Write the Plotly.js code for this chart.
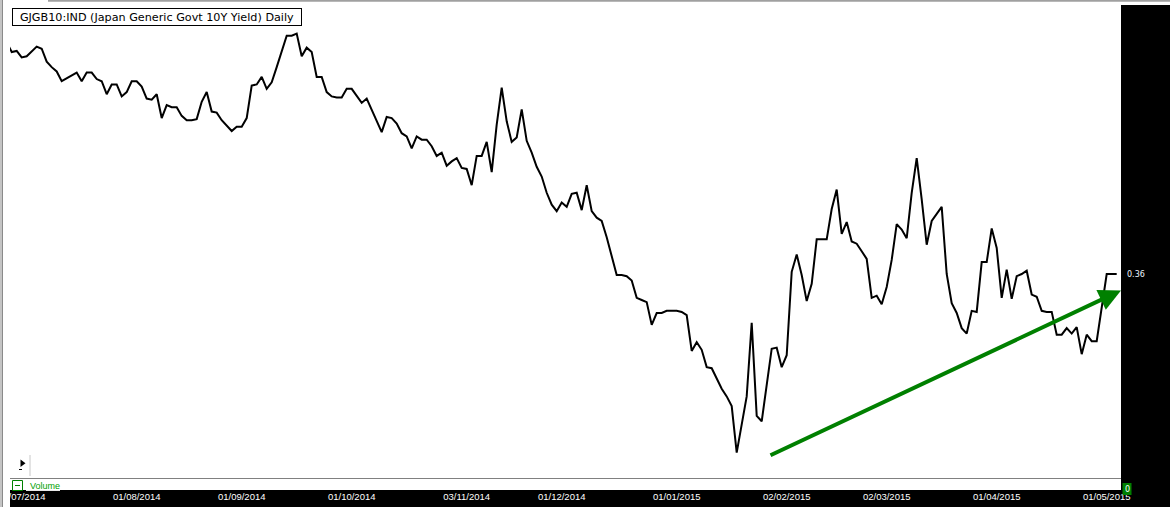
<!DOCTYPE html>
<html>
<head>
<meta charset="utf-8">
<script src="https://cdn.plot.ly/plotly-3.0.1.min.js"></script>
<style>
html,body{margin:0;padding:0;background:#fff;}
#chart{width:1170px;height:507px;}
</style>
</head>
<body>
<div id="chart"></div>
<script>
// Trading-day number (weekdays counted from 01/07/2014 = 0)
const tradingDay = [-3,-2,-1,0,1,2,3,4,5,6,7,8,11,12,13,14,15,16,17,18,19,20,21,22,23,24,25,26,27,28,29,30,31,32,33,34,35,36,37,38,39,40,42,43,44,45,46,47,48,49,50,51,52,53,54,55,56,57,58,59,60,61,62,63,64,65,66,67,68,69,70,72,73,74,75,76,77,78,79,80,81,82,83,84,85,86,87,88,89,90,91,92,93,94,95,96,97,98,99,100,101,102,103,104,105,106,107,108,109,110,111,112,113,114,115,116,117,118,119,120,121,122,123,124,125,126,127,128,129,130,131,132,133,134,135,136,137,138,139,140,141,142,143,145,146,147,148,150,151,152,153,154,155,156,157,158,159,161,162,163,164,165,166,167,168,169,170,171,172,173,174,175,176,177,178,179,180,181,182,183,184,185,186,187,188,189,190,191,192,193,194,195,196,197,198,199,200,201,202,203,204,205,206,207,208,209,210,211,212,213,214,215,216,217,218,219];
// Japan Generic Govt 10Y yield (%)
const yieldPct = [0.574,0.565,0.566,0.560,0.561,0.566,0.570,0.568,0.556,0.551,0.547,0.538,0.546,0.538,0.546,0.546,0.540,0.538,0.526,0.535,0.535,0.524,0.528,0.538,0.538,0.533,0.522,0.521,0.526,0.504,0.516,0.514,0.514,0.506,0.502,0.502,0.503,0.519,0.528,0.510,0.509,0.502,0.492,0.496,0.496,0.504,0.534,0.535,0.542,0.531,0.537,0.551,0.566,0.580,0.580,0.582,0.561,0.569,0.565,0.542,0.542,0.528,0.524,0.523,0.523,0.531,0.531,0.525,0.518,0.522,0.512,0.491,0.505,0.504,0.499,0.490,0.487,0.476,0.487,0.484,0.484,0.478,0.469,0.472,0.460,0.464,0.467,0.458,0.457,0.442,0.469,0.469,0.482,0.454,0.498,0.532,0.501,0.482,0.486,0.512,0.483,0.472,0.459,0.450,0.435,0.424,0.418,0.426,0.422,0.434,0.435,0.419,0.442,0.418,0.412,0.409,0.394,0.377,0.359,0.359,0.358,0.354,0.338,0.336,0.334,0.313,0.324,0.324,0.326,0.326,0.326,0.325,0.322,0.289,0.297,0.290,0.274,0.273,0.263,0.254,0.247,0.238,0.195,0.247,0.315,0.229,0.224,0.291,0.292,0.274,0.285,0.362,0.378,0.359,0.335,0.351,0.392,0.392,0.420,0.438,0.397,0.408,0.390,0.388,0.381,0.374,0.338,0.340,0.332,0.348,0.373,0.406,0.401,0.393,0.435,0.467,0.429,0.387,0.409,0.416,0.422,0.360,0.333,0.324,0.310,0.305,0.326,0.325,0.371,0.371,0.402,0.384,0.338,0.364,0.337,0.358,0.360,0.363,0.341,0.339,0.326,0.325,0.325,0.304,0.304,0.310,0.305,0.311,0.286,0.304,0.298,0.298,0.330,0.360,0.360,0.360];
const tickDays = [0,23,44,66,89,108,131,153,173,195,217];
const tickLabels = ['01/07/2014','01/08/2014','01/09/2014','01/10/2014','03/11/2014','01/12/2014','01/01/2015','02/02/2015','02/03/2015','01/04/2015','01/05/2015'];
const lastValue = 0.36;
const titleText = 'GJGB10:IND (Japan Generic Govt 10Y Yield) Daily';

// pixel -> paper helpers (plot area: x 10..1121, y 5..478)
const L = 10, R = 1121, T = 5, B = 478;
const px = x => (x - L) / (R - L);
const py = y => (B - y) / (B - T);
function rect(x0, y0, x1, y1, fill, extra) {
  return Object.assign({type:'rect', xref:'paper', yref:'paper', layer:'above',
    x0:px(x0), x1:px(x1), y0:py(y1), y1:py(y0), fillcolor:fill, line:{width:0}}, extra || {});
}
function seg(x0, y0, x1, y1, color, w, dash) {
  return {type:'line', xref:'paper', yref:'paper', layer:'above',
    x0:px(x0), x1:px(x1), y0:py(y0), y1:py(y1), line:{color:color, width:w, dash:dash||'solid'}};
}

const trace = {
  x: tradingDay, y: yieldPct, type:'scatter', mode:'lines',
  line:{color:'#000000', width:2}, hoverinfo:'skip'
};

const shapes = [
  rect(0, 0, 10, 507, '#ffffff'),
  rect(0, 0, 1170, 5, '#ffffff'),
  rect(0, 0, 2, 507, '#c4c4c4'),
  rect(2, 0, 3, 507, '#8a8a8a'),
  rect(48, 0, 1170, 1.7, '#a0a0a0'),
  rect(10, 478.6, 1121, 490, '#ffffff'),
  rect(26, 490, 60, 491, '#e8e8e8'),
  rect(12.5, 480.5, 22.5, 490.5, 'rgba(0,0,0,0)', {line:{color:'#008000', width:1}}),
  seg(15, 485.5, 20, 485.5, '#008000', 1),
  rect(1122.5, 483, 1131.5, 495, '#008000'),
  {type:'path', xref:'paper', yref:'paper', layer:'above',
   path:'M'+px(20.5)+','+py(459.5)+' L'+px(20.5)+','+py(467)+' L'+px(25.5)+','+py(463.3)+' Z',
   fillcolor:'#000000', line:{width:0}},
  seg(19, 469.5, 25, 469.5, '#000000', 1, 'dot'),
  seg(30, 455, 30, 476, '#c8c8c8', 1)
];

const annotations = [
  {xref:'paper', yref:'paper', x:px(12.3), y:py(8.3), xanchor:'left', yanchor:'top',
   text:titleText, showarrow:false, align:'center', width:286, height:14,
   bgcolor:'#ffffff', bordercolor:'#000000', borderwidth:1, borderpad:1,
   font:{family:'DejaVu Sans, sans-serif', size:11.2, color:'#000000'}},
  {xref:'paper', yref:'y', x:px(1124.5), y:lastValue, xanchor:'left', yanchor:'middle',
   text:lastValue.toFixed(2), showarrow:false,
   font:{family:'DejaVu Sans, sans-serif', size:8, color:'#eef6ff'}},
  {xref:'paper', yref:'paper', x:px(1127), y:py(489), xanchor:'center', yanchor:'middle',
   text:'0', showarrow:false, font:{family:'DejaVu Sans, sans-serif', size:8, color:'#ffffff'}},
  {xref:'paper', yref:'paper', x:px(27.5), y:py(485.5), xanchor:'left', yanchor:'middle',
   text:'Volume', showarrow:false, font:{family:'Liberation Sans, Arial, sans-serif', size:9, color:'#00a000'}},
  {xref:'paper', yref:'paper', x:px(1121), y:py(290.5), text:'', showarrow:true,
   ax:-352, ay:165.5, arrowhead:2, arrowsize:1.1, arrowwidth:4, arrowcolor:'#008000', standoff:0, startstandoff:0}
];

const layout = {
  width:1170, height:507,
  margin:{l:L, r:1170-R, t:T, b:507-B, pad:0},
  paper_bgcolor:'#000000', plot_bgcolor:'#ffffff',
  showlegend:false,
  xaxis:{type:'linear', range:[(L-21.7)/5, (R-21.7)/5], tickmode:'array',
    tickvals:tickDays, ticktext:tickLabels, ticks:'', showgrid:false, zeroline:false,
    showline:true, linecolor:'#000000', linewidth:1, ticklabelstandoff:10,
    ticklabeloverflow:'allow',
    tickfont:{family:'Liberation Sans, Arial, sans-serif', size:9.5, color:'#ffffff'}},
  yaxis:{range:[0.36-(B-274)/1083, 0.36+(274-T)/1083], visible:false},
  shapes:shapes, annotations:annotations
};

Plotly.newPlot('chart', [trace], layout, {displayModeBar:false, staticPlot:true});
</script>
</body>
</html>
